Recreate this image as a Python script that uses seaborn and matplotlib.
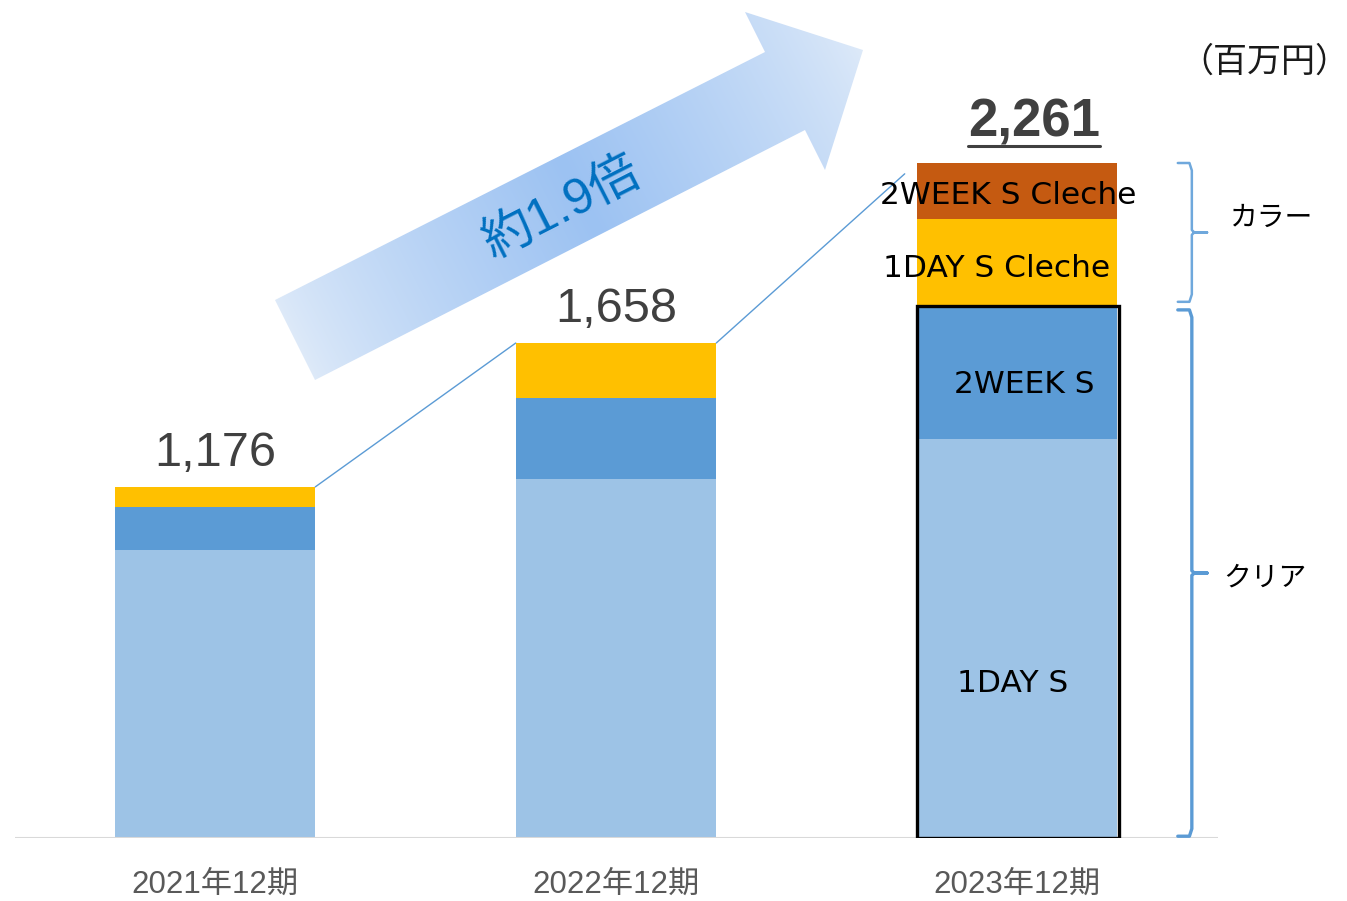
import numpy as np
import pandas as pd
import matplotlib
matplotlib.use("Agg")
import matplotlib.pyplot as plt
import seaborn as sns
from matplotlib.patches import Polygon, Rectangle
from matplotlib.lines import Line2D

# data (百万円)
periods = ['2021年12期', '2022年12期', '2023年12期']
oneday_s = [965, 1203, 1337]
twoweek_s = [144, 271, 445]
oneday_cleche = [67, 184, 292]
twoweek_cleche = [0, 0, 187]
total_labels = ['1,176', '1,658', '2,261']
seg_names = ['1DAY S', '2WEEK S', '1DAY S Cleche', '2WEEK S Cleche']
seg_colors = ['#9DC3E6', '#5B9BD5', '#FFC000', '#C55A11']
growth_label = '約1.9倍'

sns.set_theme(style='white')
plt.rcParams['font.family'] = ['Liberation Sans', 'Noto Sans CJK JP', 'DejaVu Sans']

fig = plt.figure(figsize=(13.47, 9.01), dpi=100)

# background layer in pixel coords for the big gradient arrow
bg = fig.add_axes([0, 0, 1, 1])
bg.set_xlim(0, 1347)
bg.set_ylim(901, 0)
bg.axis('off')
arrow_pts = [(275, 300), (765, 52), (745, 12), (863, 50), (825, 170), (805, 130), (315, 380)]
poly = Polygon(arrow_pts, closed=True, facecolor='none', edgecolor='none')
bg.add_patch(poly)
Y, X = np.mgrid[0:901, 0:1347]
x0, y0, x1, y1 = 295, 340, 863, 50
dx, dy = x1 - x0, y1 - y0
t = ((X - x0) * dx + (Y - y0) * dy) / (dx * dx + dy * dy)
f = np.clip(1 - np.abs(t - 0.5) / 0.5, 0, 1) ** 0.8
light = np.array([0xDE, 0xEA, 0xF9]) / 255
strong = np.array([0x9C, 0xC2, 0xF2]) / 255
img = light[None, None, :] * (1 - f[..., None]) + strong[None, None, :] * f[..., None]
im = bg.imshow(img, extent=(0, 1347, 901, 0), origin='upper', zorder=1)
im.set_clip_path(poly)
bg.text(562, 208, growth_label, rotation=27, ha='center', va='center',
        fontsize=36, color='#0070C0', family=['Liberation Sans', 'Noto Sans CJK JP'], zorder=2)

# main chart
ax = fig.add_axes([14.5 / 1347, 63 / 901, 1203 / 1347, 838 / 901])
ax.patch.set_alpha(0)

segs = np.array([oneday_s, twoweek_s, oneday_cleche, twoweek_cleche])
cum = np.cumsum(segs, axis=0)
totals = cum[-1]
for i in reversed(range(len(seg_names))):
    df = pd.DataFrame({'period': periods, 'value': cum[i]})
    sns.barplot(data=df, x='period', y='value', color=seg_colors[i], width=0.5,
                saturation=1, linewidth=0, errorbar=None, ax=ax, zorder=3)

ax.set_xlim(-0.5, 2.5)
ax.set_ylim(0, 2807)
for s in ax.spines.values():
    s.set_visible(False)
ax.set_yticks([])
ax.set_xlabel('')
ax.set_ylabel('')
ax.axhline(0, color='#D9D9D9', lw=1.5, zorder=4)
ax.set_xticks(range(len(periods)), periods)
ax.tick_params(axis='x', length=0, pad=23, labelsize=22.5, labelcolor='#595959')

# black frame around clear lenses of last year
ax.add_patch(Rectangle((2 - 0.25, 0), 0.505, cum[1][2], fill=False, ec='black', lw=2.4, zorder=5))

# connector lines
ax.plot([0.25, 0.75], [totals[0], totals[1]], color='#5B9BD5', lw=1, zorder=2)
ax.plot([1.25, 1.25 + 0.5 * 0.94], [totals[1], totals[1] + (totals[2] - totals[1]) * 0.94],
        color='#5B9BD5', lw=1, zorder=2)

# total labels
for i in range(2):
    ax.annotate(total_labels[i], (i, totals[i]), xytext=(0, 15), textcoords='offset points',
                ha='center', va='baseline', fontsize=35, color='#404040')
tt = ax.annotate(total_labels[2], (2, totals[2]), xytext=(12, 19), textcoords='offset points',
                 ha='center', va='baseline', fontsize=38, fontweight='bold', color='#404040')

# segment labels in last bar
lbl_dx = [-0.012, 0.017, -0.052, -0.022]
lbl_dy = [0, -40, -20, -15]
for i in range(4):
    mid = cum[i][2] - segs[i][2] / 2
    if i == 0:
        mid = 516
    ax.text(2 + lbl_dx[i], mid + lbl_dy[i], seg_names[i], ha='center', va='center',
            fontsize=22.5, color='black', family='DejaVu Sans', zorder=6)

# braces
def brace(lo, hi, color, lw):
    xl, xm, xt = 2.401, 2.436, 2.474
    tip = (lo + hi) / 2
    d = 25
    xs = [xl, xm - 0.006, xm, xm, xm + 0.006, xt, xm + 0.006, xm, xm, xm - 0.006, xl]
    ys = [hi, hi, hi - d, tip + 8, tip, tip, tip, tip - 8, lo + d, lo, lo]
    ax.plot(xs, ys, color=color, lw=lw, clip_on=False, solid_joinstyle='round', zorder=5)

brace(cum[1][2] + 14, totals[2], '#6FA8DC', 1.8)
brace(6, cum[1][2] - 13, '#5B9BD5', 2.4)
ax.text(2.636, 2077, 'カラー', ha='center', va='center', fontsize=20,
        family=['Noto Sans CJK JP'], color='black')
ax.text(2.618, 871, 'クリア', ha='center', va='center', fontsize=20,
        family=['Noto Sans CJK JP'], color='black')

fig.text(1264 / 1347, 1 - 62 / 901, '（百万円）', ha='center', va='center', fontsize=24.5,
         family=['Noto Sans CJK JP'], color='#1A1A1A')

# underline the latest total
fig.canvas.draw()
bb = tt.get_window_extent()
fig.add_artist(Line2D([bb.x0, bb.x1], [bb.y0 + 2, bb.y0 + 2], transform=None,
                      color='#404040', lw=2.2))

fig.savefig('out.png', dpi=100)
